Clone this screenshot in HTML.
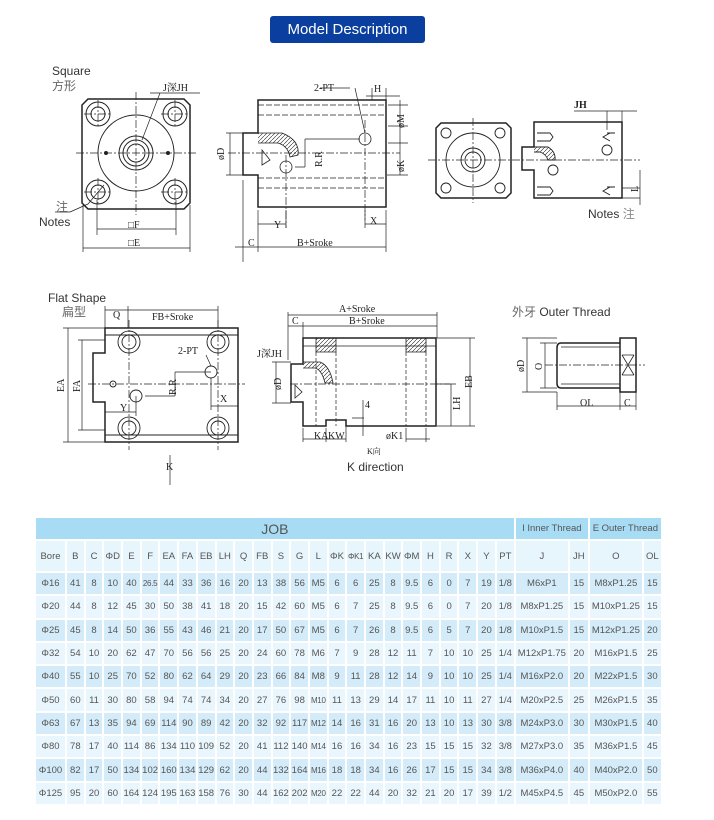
<!DOCTYPE html>
<html><head><meta charset="utf-8"><style>
body{margin:0;background:#fff;width:714px;height:820px;position:relative;overflow:hidden;font-family:"Liberation Sans","Noto Sans CJK SC",sans-serif}
.title{position:absolute;left:270px;top:16px;width:155px;height:27px;background:#0b3f9f;border-radius:3px;color:#fff;font-size:15px;line-height:27px;text-align:center}
svg{position:absolute;left:0;top:0}
table{position:absolute;left:34px;top:516px;width:627px;border-collapse:collapse;table-layout:fixed;color:#555;font-size:9.5px}
td{border:2px solid #fff;padding:0;text-align:center;white-space:nowrap;overflow:hidden;height:21.3px}
td.s{font-size:8px;letter-spacing:-.3px}
tr.h1 td{background:#a8dcf5;height:21px}
tr.h2 td{background:#e7f5fc;height:30px}
tr.o td{background:#d4ecf9}
tr.e td{background:#eaf6fd}
</style></head><body>
<div class="title">Model Description</div>
<svg width="714" height="510" viewBox="0 0 714 510" font-family="Liberation Serif, Noto Serif CJK SC, serif" font-size="10" fill="none" stroke="#222">
<g stroke-width="1.5"><path d="M88 99H184L190 105V203L184 209H88L82 203V105Z"/></g>
<g stroke-width="1">
<circle cx="136" cy="153" r="38"/><circle cx="136" cy="153" r="17"/><circle cx="136" cy="153" r="13"/><circle cx="136" cy="153" r="9"/>
<circle cx="98" cy="114" r="12"/><circle cx="98" cy="114" r="7"/><circle cx="175" cy="114" r="12"/><circle cx="175" cy="114" r="7"/>
<circle cx="98" cy="192" r="12"/><circle cx="98" cy="192" r="7"/><circle cx="175" cy="192" r="12"/><circle cx="175" cy="192" r="7"/>
<circle cx="106" cy="153" r="1.5" fill="#222"/><circle cx="168" cy="153" r="1.5" fill="#222"/>
</g>
<g stroke-width=".7" stroke-dasharray="8 2 2 2"><path d="M76 153H196M136 92V215M98 100V128M84 114H112M175 100V128M161 114H189M98 178V206M84 192H112M175 178V206M161 192H189"/></g>
<g stroke-width=".7"><path d="M150 93H200M160 93L142 140M88 204L70 212M55 212H70M88 204L104 185M97 200V235M176 200V235M83 205V252M190 205V252M97 229H176M83 248H190"/></g>
<g stroke-width="1.5"><path d="M258 100H386V207H258V175H243V133H258Z"/></g>
<g stroke-width=".8"><circle cx="365" cy="139" r="6"/><circle cx="286" cy="167" r="6"/><path d="M258 133H282Q300 140 298 155L290 157Q288 146 278 143H258" fill="url(#h)"/><path d="M262 150L270 160L262 165Z"/></g>
<defs><pattern id="h" width="4" height="4" patternUnits="userSpaceOnUse"><path d="M0 4L4 0" stroke="#222" stroke-width=".6"/></pattern></defs>
<g stroke-width=".7" stroke-dasharray="6 2"><path d="M258 105H386M258 115H386M258 178H386M258 188H386"/></g>
<g stroke-width=".7" stroke-dasharray="8 2 2 2"><path d="M228 153H400M365 120V220M286 155V228"/></g>
<g stroke-width=".7"><path d="M355 88L365 133M320 88H350M305 139H360M305 139V167M295 167H305M372 88V100M386 88V100M366 96H400M388 105H408M388 126H408M400 100V130M388 143H408M400 130V175M387 175H408M230 133V175M226 133H243M226 175H243M258 210V252M286 210V228M258 224H286M365 210V228M386 210V252M365 224H386M243 180V262M235 247H386"/></g>
<g stroke-width="1.5"><path d="M441 123H506L511 128V193L506 198H441L436 193V128Z"/><path d="M534 122H622V198H534V170H522V147H534Z"/></g>
<g stroke-width=".9"><circle cx="473" cy="160" r="27"/><circle cx="473" cy="160" r="12"/><circle cx="473" cy="160" r="8"/><circle cx="446" cy="133" r="5"/><circle cx="500" cy="133" r="5"/><circle cx="446" cy="188" r="5"/><circle cx="500" cy="188" r="5"/><circle cx="607" cy="150" r="5"/><circle cx="553" cy="170" r="5"/><path d="M534 147H548Q556 152 555 160H548Q546 154 540 152H534" fill="url(#h)"/><path d="M537 133H550L553 137L550 141H537M607 133H615M610 133L603 137L610 141M537 187H550L553 191L550 195H537M607 187H615M610 187L603 191L610 195"/></g>
<g stroke-width=".7" stroke-dasharray="8 2 2 2"><path d="M428 160H640M473 118V203"/></g>
<g stroke-width=".7"><path d="M574 111H637M607 111V130M622 111V198M640 170V205M622 198H640M622 188H640"/></g>
<g stroke-width="1.5"><path d="M105 328H238V442H105V402H93V353H105Z"/></g>
<g stroke-width=".9"><circle cx="129" cy="342" r="11"/><circle cx="129" cy="342" r="7"/><circle cx="218" cy="342" r="11"/><circle cx="218" cy="342" r="7"/><circle cx="129" cy="428" r="11"/><circle cx="129" cy="428" r="7"/><circle cx="218" cy="428" r="11"/><circle cx="218" cy="428" r="7"/><circle cx="211" cy="372" r="6"/><circle cx="136" cy="396" r="6"/><circle cx="113" cy="384" r="3"/><path d="M105 335H238M105 435H238"/></g>
<g stroke-width=".7" stroke-dasharray="8 2 2 2"><path d="M88 384H245M129 320V450M218 320V450"/></g>
<g stroke-width=".7"><path d="M63 328H105M63 442H105M68 328V442M78 340H105M78 430H105M82 340V430M105 306V328M128 306V328M218 306V328M105 310H218M175 372H211M175 372V396M145 396H175M211 378V410M211 406H238M105 412H136M136 396V416M170 485V455M206 355L211 366"/></g>
<g stroke-width="1.5"><path d="M303 338H436V426H346V420H326V426H303V402H291V364H303Z"/></g>
<g stroke-width=".8"><path d="M303 346H436M316 338V352H336V338M406 338V352H426V338M303 362H320Q330 366 333 383L325 383Q322 370 315 368H303" fill="url(#h)"/><path d="M295 385L302 392L295 398Z"/></g>
<g stroke-width=".7" stroke-dasharray="4 2"><path d="M316 352V426M336 352V426M406 352V426M426 352V426"/></g>
<g stroke-width=".7" stroke-dasharray="8 2 2 2"><path d="M290 384H450"/></g>
<g stroke-width=".7"><path d="M288 315H437M288 326H437M288 312V360M303 322V338M437 312V338M437 338H475M437 426H475M470 338V426M436 384H456M451 384V426M276 362V403M272 362H291M272 403H291M303 428V442M326 428V442M346 426V442M406 428V442M426 428V442M303 439H346M326 439H346M406 439H430M352 418H364M363 400V436"/></g>
<g stroke-width="1.5"><path d="M561 343H620V388H561Q557 388 557 383V348Q557 343 561 343ZM620 338H636V392H620Z"/></g>
<g stroke-width=".8"><path d="M561 347H620M561 384H620M622 355L634 375M634 355L622 375M622 355H634M622 375H634"/></g>
<g stroke-width=".7" stroke-dasharray="8 2 2 2"><path d="M545 365H645"/></g>
<g stroke-width=".7"><path d="M522 338H557M522 392H557M527 338V392M540 343H557M540 388H557M545 343V388M557 392V410M620 392V410M636 392V410M557 406H636"/></g>
<g fill="#222" stroke="none">
<text x="163" y="91">J深JH</text><text x="314" y="91">2-PT</text><text x="374" y="92">H</text>
<text x="274" y="228" >Y</text><text x="370" y="224">X</text><text x="248" y="246">C</text><text x="297" y="246">B+Sroke</text>
<text x="128" y="228">□F</text><text x="128" y="246">□E</text>
<text x="574" y="108" font-weight="bold">JH</text>
<text x="113" y="318">Q</text><text x="152" y="320">FB+Sroke</text><text x="178" y="354">2-PT</text>
<text x="120" y="411">Y</text><text x="220" y="402">X</text><text x="166" y="470">K</text>
<text x="339" y="312">A+Sroke</text><text x="349" y="324">B+Sroke</text><text x="292" y="324">C</text><text x="257" y="357">J深JH</text>
<text x="314" y="439">KA</text><text x="328" y="439">KW</text><text x="386" y="439">øK1</text><text x="365" y="408">4</text><text x="367" y="454" font-size="8">K向</text>
<text x="580" y="406">OL</text><text x="624" y="406">C</text>
<text transform="translate(224 160) rotate(-90)">øD</text>
<text transform="translate(322 167) rotate(-90)">R.R</text>
<text transform="translate(404 128) rotate(-90)">øM</text>
<text transform="translate(404 172) rotate(-90)">øK</text>
<text transform="translate(638 192) rotate(-90)">L</text>
<text transform="translate(64 392) rotate(-90)">EA</text>
<text transform="translate(80 392) rotate(-90)">FA</text>
<text transform="translate(176 395) rotate(-90)">R.R</text>
<text transform="translate(281 390) rotate(-90)">øD</text>
<text transform="translate(460 410) rotate(-90)">LH</text>
<text transform="translate(472 388) rotate(-90)">EB</text>
<text transform="translate(524 372) rotate(-90)">øD</text>
<text transform="translate(542 370) rotate(-90)">O</text>
</g>
<g fill="#333" stroke="none" font-family="Liberation Sans, Noto Sans CJK SC, sans-serif" font-size="12">
<text x="52" y="75">Square</text><text x="52" y="90" fill="#666">方形</text>
<text x="56" y="211" fill="#666">注</text><text x="39" y="226">Notes</text>
<text x="588" y="218">Notes <tspan fill="#888">注</tspan></text>
<text x="48" y="302">Flat Shape</text><text x="62" y="316" fill="#666">扁型</text>
<text x="347" y="471">K direction</text>
<text x="512" y="316"><tspan fill="#666">外牙</tspan> Outer Thread</text>
</g>
</svg>
<table>
<colgroup><col style="width:31px"><col span="24" style="width:18.7px"><col style="width:54px"><col style="width:20px"><col style="width:54px"><col style="width:19px"></colgroup>
<tr class="h1"><td colspan="25" style="font-size:14px">JOB</td><td colspan="2">I Inner Thread</td><td colspan="2">E Outer Thread</td></tr>
<tr class="h2"><td>Bore</td><td>B</td><td>C</td><td>ΦD</td><td>E</td><td>F</td><td>EA</td><td>FA</td><td>EB</td><td>LH</td><td>Q</td><td>FB</td><td>S</td><td>G</td><td>L</td><td>ΦK</td><td class="s">ΦK1</td><td>KA</td><td>KW</td><td>ΦM</td><td>H</td><td>R</td><td>X</td><td>Y</td><td>PT</td><td>J</td><td>JH</td><td>O</td><td>OL</td></tr>
<tr class="o"><td>Φ16</td><td>41</td><td>8</td><td>10</td><td>40</td><td class="s">26.5</td><td>44</td><td>33</td><td>36</td><td>16</td><td>20</td><td>13</td><td>38</td><td>56</td><td>M5</td><td>6</td><td>6</td><td>25</td><td>8</td><td>9.5</td><td>6</td><td>0</td><td>7</td><td>19</td><td>1/8</td><td>M6xP1</td><td>15</td><td>M8xP1.25</td><td>15</td></tr>
<tr class="e"><td>Φ20</td><td>44</td><td>8</td><td>12</td><td>45</td><td>30</td><td>50</td><td>38</td><td>41</td><td>18</td><td>20</td><td>15</td><td>42</td><td>60</td><td>M5</td><td>6</td><td>7</td><td>25</td><td>8</td><td>9.5</td><td>6</td><td>0</td><td>7</td><td>20</td><td>1/8</td><td>M8xP1.25</td><td>15</td><td>M10xP1.25</td><td>15</td></tr>
<tr class="o"><td>Φ25</td><td>45</td><td>8</td><td>14</td><td>50</td><td>36</td><td>55</td><td>43</td><td>46</td><td>21</td><td>20</td><td>17</td><td>50</td><td>67</td><td>M5</td><td>6</td><td>7</td><td>26</td><td>8</td><td>9.5</td><td>6</td><td>5</td><td>7</td><td>20</td><td>1/8</td><td>M10xP1.5</td><td>15</td><td>M12xP1.25</td><td>20</td></tr>
<tr class="e"><td>Φ32</td><td>54</td><td>10</td><td>20</td><td>62</td><td>47</td><td>70</td><td>56</td><td>56</td><td>25</td><td>20</td><td>24</td><td>60</td><td>78</td><td>M6</td><td>7</td><td>9</td><td>28</td><td>12</td><td>11</td><td>7</td><td>10</td><td>10</td><td>25</td><td>1/4</td><td>M12xP1.75</td><td>20</td><td>M16xP1.5</td><td>25</td></tr>
<tr class="o"><td>Φ40</td><td>55</td><td>10</td><td>25</td><td>70</td><td>52</td><td>80</td><td>62</td><td>64</td><td>29</td><td>20</td><td>23</td><td>66</td><td>84</td><td>M8</td><td>9</td><td>11</td><td>28</td><td>12</td><td>14</td><td>9</td><td>10</td><td>10</td><td>25</td><td>1/4</td><td>M16xP2.0</td><td>20</td><td>M22xP1.5</td><td>30</td></tr>
<tr class="e"><td>Φ50</td><td>60</td><td>11</td><td>30</td><td>80</td><td>58</td><td>94</td><td>74</td><td>74</td><td>34</td><td>20</td><td>27</td><td>76</td><td>98</td><td class="s">M10</td><td>11</td><td>13</td><td>29</td><td>14</td><td>17</td><td>11</td><td>10</td><td>11</td><td>27</td><td>1/4</td><td>M20xP2.5</td><td>25</td><td>M26xP1.5</td><td>35</td></tr>
<tr class="o"><td>Φ63</td><td>67</td><td>13</td><td>35</td><td>94</td><td>69</td><td>114</td><td>90</td><td>89</td><td>42</td><td>20</td><td>32</td><td>92</td><td>117</td><td class="s">M12</td><td>14</td><td>16</td><td>31</td><td>16</td><td>20</td><td>13</td><td>10</td><td>13</td><td>30</td><td>3/8</td><td>M24xP3.0</td><td>30</td><td>M30xP1.5</td><td>40</td></tr>
<tr class="e"><td>Φ80</td><td>78</td><td>17</td><td>40</td><td>114</td><td>86</td><td>134</td><td>110</td><td>109</td><td>52</td><td>20</td><td>41</td><td>112</td><td>140</td><td class="s">M14</td><td>16</td><td>16</td><td>34</td><td>16</td><td>23</td><td>15</td><td>15</td><td>15</td><td>32</td><td>3/8</td><td>M27xP3.0</td><td>35</td><td>M36xP1.5</td><td>45</td></tr>
<tr class="o"><td>Φ100</td><td>82</td><td>17</td><td>50</td><td>134</td><td>102</td><td>160</td><td>134</td><td>129</td><td>62</td><td>20</td><td>44</td><td>132</td><td>164</td><td class="s">M16</td><td>18</td><td>18</td><td>34</td><td>16</td><td>26</td><td>17</td><td>15</td><td>15</td><td>34</td><td>3/8</td><td>M36xP4.0</td><td>40</td><td>M40xP2.0</td><td>50</td></tr>
<tr class="e"><td>Φ125</td><td>95</td><td>20</td><td>60</td><td>164</td><td>124</td><td>195</td><td>163</td><td>158</td><td>76</td><td>30</td><td>44</td><td>162</td><td>202</td><td class="s">M20</td><td>22</td><td>22</td><td>44</td><td>20</td><td>32</td><td>21</td><td>20</td><td>17</td><td>39</td><td>1/2</td><td>M45xP4.5</td><td>45</td><td>M50xP2.0</td><td>55</td></tr>
</table>
</body></html>
